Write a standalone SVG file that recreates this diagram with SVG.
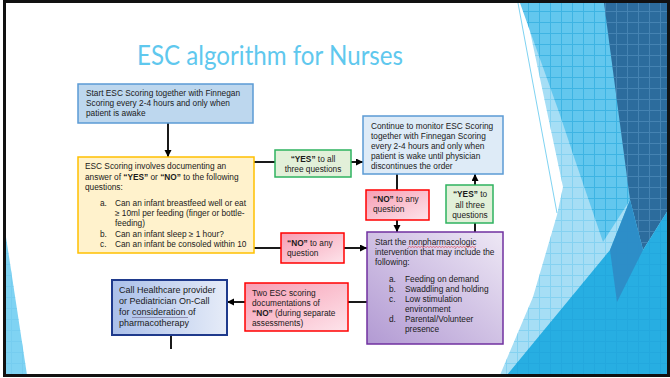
<svg xmlns="http://www.w3.org/2000/svg" width="670" height="378" viewBox="0 0 670 378">
  <defs>
    <style>
      .t { font-family: "Liberation Sans", Arial, sans-serif; font-size: 8.3px; fill: #1a1a1a; }
      .tl { font-family: "Liberation Sans", Arial, sans-serif; font-size: 9px; fill: #1a1a1a; }
      .b { font-weight: bold; }
      .c { text-anchor: middle; }
      .edge { fill: none; stroke: #000; stroke-width: 1.8; }
      .arrow { marker-end: url(#head); }
    </style>
    <marker id="head" markerUnits="userSpaceOnUse" markerWidth="8" markerHeight="8" refX="7" refY="3.5" orient="auto">
      <path d="M0,0 L7,3.5 L0,7 z" fill="#000"/>
    </marker>
    <linearGradient id="pink" x1="0" y1="0" x2="1" y2="1">
      <stop offset="0" stop-color="#F79DB3"/>
      <stop offset="1" stop-color="#FDE4EB"/>
    </linearGradient>
    <linearGradient id="lilac" x1="0" y1="1" x2="1" y2="0">
      <stop offset="0" stop-color="#B29AD3"/>
      <stop offset="1" stop-color="#EEE8F5"/>
    </linearGradient>
    <linearGradient id="steel" x1="0" y1="0" x2="1" y2="0">
      <stop offset="0" stop-color="#AABFE9"/>
      <stop offset="1" stop-color="#E6ECF8"/>
    </linearGradient>
    <pattern id="gridBlue" patternUnits="userSpaceOnUse" width="11" height="11">
      <path d="M0,0.5 H11 M0.5,0 V11" stroke="#1FA3DA" stroke-width="1" opacity="0.55"/>
    </pattern>
    <pattern id="gridPale" patternUnits="userSpaceOnUse" width="11" height="11">
      <path d="M0,0.5 H11 M0.5,0 V11" stroke="#6FCAEE" stroke-width="1" opacity="0.6"/>
    </pattern>
    <pattern id="gridDark" patternUnits="userSpaceOnUse" width="11" height="11">
      <path d="M0,0.5 H11 M0.5,0 V11" stroke="#4F8DBB" stroke-width="1" opacity="0.7"/>
    </pattern>
  </defs>

  <rect width="670" height="378" fill="#fff"/>

  <!-- faceted backdrop on the right edge -->
  <g id="backdrop">
    <polygon points="524,3 670,3 670,375 500,375 533,297 557,215 563,187" fill="#A6DEF5"/>
    <polygon points="524,3 670,3 670,375 500,375 533,297 557,215 563,187" fill="url(#gridPale)"/>
    <polygon points="520,3 606,3 630,200 603,242 575,160 560,115" fill="#63C7EE"/>
    <polygon points="520,3 606,3 630,200 603,242 575,160 560,115" fill="url(#gridBlue)"/>
    <polygon points="604,3 670,3 670,207 643,250 630,200" fill="#2C6C9D"/>
    <polygon points="604,3 670,3 670,207 643,250 630,200" fill="url(#gridDark)"/>
    <polygon points="507,375 610,250 630,200 643,250 670,207 670,375" fill="#27AEE2"/>
    <polygon points="507,375 610,250 630,200 643,250 670,207 670,375" fill="url(#gridBlue)"/>
    <polygon points="630,200 643,250 617,302 610,250" fill="#2F86C2" opacity="0.8"/>
    <line x1="518" y1="3" x2="557" y2="213" stroke="#7FD3F2" stroke-width="1"/>
    <polygon points="6,237 27,375 6,375" fill="#7FD3F3"/>
    <polygon points="6,237 27,375 6,375" fill="url(#gridPale)"/>
  </g>

  <text x="270" y="65" font-family="Lato, 'Open Sans', sans-serif" font-size="26" fill="#5FC8EE" text-anchor="middle" textLength="266" lengthAdjust="spacingAndGlyphs">ESC algorithm for Nurses</text>

  <!-- connectors -->
  <g id="connectors">
    <line class="edge arrow" x1="168" y1="123" x2="168" y2="157"/>
    <line class="edge" x1="254" y1="162" x2="275" y2="162"/>
    <line class="edge arrow" x1="351" y1="162" x2="363" y2="162"/>
    <line class="edge" x1="397" y1="174" x2="397" y2="190"/>
    <line class="edge arrow" x1="397" y1="220" x2="397" y2="232"/>
    <line class="edge" x1="475" y1="232" x2="475" y2="223"/>
    <line class="edge arrow" x1="475" y1="185" x2="475" y2="174"/>
    <line class="edge" x1="254" y1="248" x2="281" y2="248"/>
    <line class="edge arrow" x1="344" y1="248" x2="367" y2="248"/>
    <line class="edge" x1="367" y1="302" x2="348" y2="302"/>
    <line class="edge arrow" x1="245" y1="302" x2="227" y2="302"/>
    <line class="edge" x1="171" y1="335" x2="171" y2="349"/>
  </g>

  <g id="start">
    <rect x="78" y="84" width="175" height="39" fill="#BDD7EE" stroke="#5B9BD5" stroke-width="1.5"/>
    <text class="t" x="86" y="96">Start ESC Scoring together with Finnegan</text>
    <text class="t" x="86" y="106">Scoring every 2-4 hours and only when</text>
    <text class="t" x="86" y="116">patient is awake</text>
  </g>

  <g id="scoring">
    <rect x="78" y="157" width="176" height="96" fill="#FFF2CC" stroke="#FFC000" stroke-width="1.5"/>
    <text class="t" x="85" y="169">ESC Scoring involves documenting an</text>
    <text class="t" x="85" y="180">answer of <tspan class="b">“YES”</tspan> or <tspan class="b">“NO”</tspan> to the following</text>
    <text class="t" x="85" y="190">questions:</text>
    <text class="t" x="100" y="206">a.</text>
    <text class="t" x="115" y="206">Can an infant breastfeed well or eat</text>
    <text class="t" x="115" y="216">≥ 10ml per feeding (finger or bottle-</text>
    <text class="t" x="115" y="226">feeding)</text>
    <text class="t" x="100" y="237">b.</text>
    <text class="t" x="115" y="237">Can an infant sleep ≥ 1 hour?</text>
    <text class="t" x="100" y="247">c.</text>
    <text class="t" x="115" y="247">Can an infant be consoled within 10</text>
  </g>

  <g id="yes-all">
    <rect x="275" y="150" width="76" height="27" fill="#E2F0D9" stroke="#2EB35F" stroke-width="1.5"/>
    <text class="t c" x="313" y="162"><tspan class="b">“YES”</tspan> to all</text>
    <text class="t c" x="313" y="172">three questions</text>
  </g>

  <g id="continue">
    <rect x="363" y="116" width="140" height="58" fill="#DEEBF7" stroke="#5B9BD5" stroke-width="1.5"/>
    <text class="t" x="371" y="129">Continue to monitor ESC Scoring</text>
    <text class="t" x="371" y="139">together with Finnegan Scoring</text>
    <text class="t" x="371" y="149">every 2-4 hours and only when</text>
    <text class="t" x="371" y="159">patient is wake until physician</text>
    <text class="t" x="371" y="169">discontinues the order</text>
  </g>

  <g id="no-any-upper">
    <rect x="366" y="190" width="63" height="30" fill="url(#pink)" stroke="#FF0000" stroke-width="1.5"/>
    <text class="t" x="373" y="202"><tspan class="b">“NO”</tspan> to any</text>
    <text class="t" x="373" y="212">question</text>
  </g>

  <g id="yes-all-right">
    <rect x="446" y="185" width="47" height="38" fill="#E2F0D9" stroke="#2EB35F" stroke-width="1.5"/>
    <text class="t c" x="470" y="197"><tspan class="b">“YES”</tspan> to</text>
    <text class="t c" x="470" y="208">all three</text>
    <text class="t c" x="470" y="218">questions</text>
  </g>

  <g id="no-any-left">
    <rect x="281" y="233" width="63" height="30" fill="url(#pink)" stroke="#FF0000" stroke-width="1.5"/>
    <text class="t" x="287" y="246"><tspan class="b">“NO”</tspan> to any</text>
    <text class="t" x="287" y="256">question</text>
  </g>

  <g id="nonpharm">
    <rect x="367" y="232" width="136" height="112" fill="url(#lilac)" stroke="#7030A0" stroke-width="1.5"/>
    <text class="t" x="375" y="245">Start the nonpharmacologic</text>
    <path d="M408,247.5 l1.5,-1 l1.5,1 l1.5,-1 l1.5,1 l1.5,-1 l1.5,1 l1.5,-1 l1.5,1 l1.5,-1 l1.5,1 l1.5,-1 l1.5,1 l1.5,-1 l1.5,1 l1.5,-1 l1.5,1 l1.5,-1 l1.5,1 l1.5,-1 l1.5,1 l1.5,-1 l1.5,1 l1.5,-1 l1.5,1 l1.5,-1 l1.5,1 l1.5,-1 l1.5,1 l1.5,-1 l1.5,1 l1.5,-1 l1.5,1 l1.5,-1 l1.5,1 l1.5,-1 l1.5,1 l1.5,-1 l1.5,1 l1.5,-1 l1.5,1 l1.5,-1 l1.5,1 l1.5,-1 l1.5,1 l1.5,-1" fill="none" stroke="#E0303A" stroke-width="0.6"/>
    <text class="t" x="375" y="255">intervention that may include the</text>
    <text class="t" x="375" y="265">following:</text>
    <text class="t" x="389" y="282">a.</text>
    <text class="t" x="405" y="282">Feeding on demand</text>
    <text class="t" x="389" y="292">b.</text>
    <text class="t" x="405" y="292">Swaddling and holding</text>
    <text class="t" x="389" y="302">c.</text>
    <text class="t" x="405" y="302">Low stimulation</text>
    <text class="t" x="405" y="312">environment</text>
    <text class="t" x="389" y="322">d.</text>
    <text class="t" x="405" y="322">Parental/Volunteer</text>
    <text class="t" x="405" y="332">presence</text>
  </g>

  <g id="two-no">
    <rect x="245" y="283" width="103" height="48" fill="url(#pink)" stroke="#FF0000" stroke-width="1.5"/>
    <text class="t" x="252" y="296">Two ESC scoring</text>
    <text class="t" x="252" y="306">documentations of</text>
    <text class="t" x="252" y="316"><tspan class="b">“NO”</tspan> (during separate</text>
    <text class="t" x="252" y="326">assessments)</text>
  </g>

  <g id="call-provider">
    <rect x="112" y="280" width="115" height="55" fill="url(#steel)" stroke="#1F3A8C" stroke-width="2"/>
    <text class="tl" x="119" y="293">Call Healthcare provider</text>
    <text class="tl" x="119" y="304">or Pediatrician On-Call</text>
    <text class="tl" x="119" y="315">for consideration of</text>
    <line x1="132" y1="317.5" x2="188" y2="317.5" stroke="#7F7F9F" stroke-width="0.8"/>
    <text class="tl" x="119" y="326">pharmacotherapy</text>
  </g>

  <!-- slide frame -->
  <rect x="4.5" y="1.5" width="664" height="374" fill="none" stroke="#111" stroke-width="3"/>
</svg>
